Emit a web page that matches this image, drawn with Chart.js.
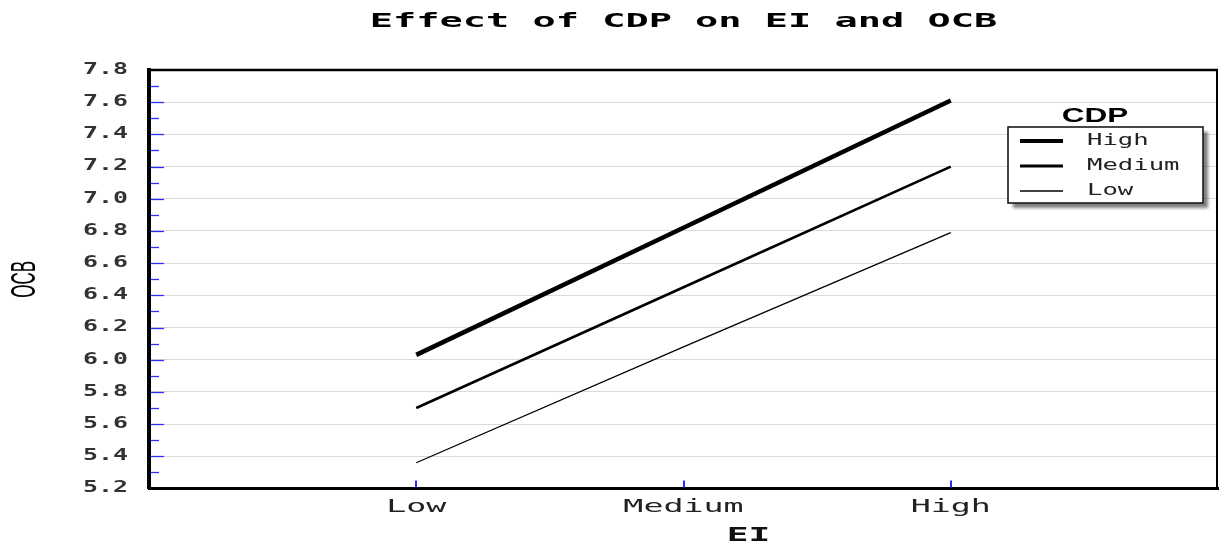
<!DOCTYPE html>
<html>
<head>
<meta charset="utf-8">
<script src="https://cdn.jsdelivr.net/npm/chart.js@4.4.1/dist/chart.umd.min.js"></script>
<style>
  html, body { margin: 0; padding: 0; background: #ffffff; }
  #wrap { width: 1220px; height: 544px; }
</style>
</head>
<body>
<div id="wrap"><canvas id="c" width="1220" height="544"></canvas></div>
<script>
// ---------------- data ----------------
const categories = ['Low', 'Medium', 'High'];          // EI levels (x axis)
const seriesNames = ['High', 'Medium', 'Low'];         // CDP levels (legend)
const highValues = [6.03, 6.82, 7.61];
const mediumValues = [5.70, 6.45, 7.20];
const lowValues = [5.36, 6.08, 6.79];
const yMin = 5.2;
const yMax = 7.8;
const yStep = 0.2;
const chartTitle = 'Effect of CDP on EI and OCB';
const xTitle = 'EI';
const yTitle = 'OCB';
const legendTitle = 'CDP';

// ---------------- styles ----------------
const MONO = "'DejaVu Sans Mono', 'Liberation Mono', monospace";
const SANS = "'Liberation Sans', Arial, sans-serif";
// horizontal/vertical glyph stretch keyed by font pixel size (the reference glyphs are wide)
const TEXT_STRETCH = {
  '20': { sx: 1.93, sy: 1 },                 // chart title
  '15': { sx: 1.66, sy: 1 },                 // y tick labels
  '18': { sx: 1.85, sy: 1 },                 // x tick labels
  '19': { sx: 1.9, sy: 1, dx: 65, dy: 2 },   // x axis title
  '17': { sx: 1, sy: 2.1 },                  // y axis title (rotated)
  '21': { sx: 1.5, sy: 1 },                  // legend title
  '16': { sx: 1.6, sy: 1 }                   // legend labels
};
const lineWidths = [4.5, 2.6, 1.3];

const canvas = document.getElementById('c');
const ctx2d = canvas.getContext('2d');
const origFillText = ctx2d.fillText;
ctx2d.fillText = function (text, x, y, maxWidth) {
  const m = /(\d+(?:\.\d+)?)px/.exec(this.font);
  const t = m && TEXT_STRETCH[m[1]];
  if (!t) {
    return maxWidth === undefined ? origFillText.call(this, text, x, y) : origFillText.call(this, text, x, y, maxWidth);
  }
  this.save();
  this.translate(x + (t.dx || 0), y + (t.dy || 0));
  this.scale(t.sx || 1, t.sy || 1);
  if (maxWidth === undefined) origFillText.call(this, text, 0, 0);
  else origFillText.call(this, text, 0, 0, maxWidth);
  this.restore();
};

const paddedLabels = [''].concat(categories, ['']);
const pad = arr => [null].concat(arr, [null]);
const seriesValues = [highValues, mediumValues, lowValues];

const framePlugin = {
  id: 'frameAndInnerTicks',
  afterDatasetsDraw(chart) {
    const ctx = chart.ctx;
    const a = chart.chartArea;
    const ys = chart.scales.y;
    const xs = chart.scales.x;
    ctx.save();
    // top & right frame
    ctx.strokeStyle = '#000';
    ctx.lineWidth = 2.5;
    ctx.beginPath();
    ctx.moveTo(a.left, a.top);
    ctx.lineTo(a.right, a.top);
    ctx.stroke();
    ctx.lineWidth = 2;
    ctx.beginPath();
    ctx.moveTo(a.right - 1, a.top);
    ctx.lineTo(a.right - 1, a.bottom);
    ctx.stroke();
    // inner blue ticks on y axis
    ctx.strokeStyle = '#2b2bff';
    ctx.lineWidth = 1.3;
    const ticks = ys.ticks.map(t => t.value);
    ticks.forEach((v, i) => {
      const py = Math.round(ys.getPixelForValue(v)) + 0.5;
      if (i > 0 && i < ticks.length - 1) {
        ctx.beginPath();
        ctx.moveTo(a.left + 2, py);
        ctx.lineTo(a.left + 15, py);
        ctx.stroke();
      }
      if (i < ticks.length - 1) {
        const mv = (v + ticks[i + 1]) / 2;
        const my = Math.round(ys.getPixelForValue(mv)) + 0.5;
        ctx.beginPath();
        ctx.moveTo(a.left + 2, my);
        ctx.lineTo(a.left + 10, my);
        ctx.stroke();
      }
    });
    // inner blue ticks on x axis
    ctx.lineWidth = 2;
    categories.forEach((c, i) => {
      const px = Math.round(xs.getPixelForValue(i + 1));
      ctx.beginPath();
      ctx.moveTo(px, a.bottom - 1);
      ctx.lineTo(px, a.bottom - 8);
      ctx.stroke();
    });
    ctx.restore();
  }
};

const legendPlugin = {
  id: 'boxLegend',
  afterDraw(chart) {
    const ctx = chart.ctx;
    const bx = 1008, by = 127, bw = 195, bh = 76;
    ctx.save();
    ctx.shadowColor = 'rgba(0,0,0,0.5)';
    ctx.shadowBlur = 3;
    ctx.shadowOffsetX = 5;
    ctx.shadowOffsetY = 5;
    ctx.fillStyle = '#ffffff';
    ctx.fillRect(bx, by, bw, bh);
    ctx.shadowColor = 'transparent';
    ctx.strokeStyle = '#1a1a1a';
    ctx.lineWidth = 1.6;
    ctx.strokeRect(bx, by, bw, bh);
    // title
    ctx.fillStyle = '#000';
    ctx.font = "bold 21px " + SANS;
    ctx.textAlign = 'center';
    ctx.textBaseline = 'middle';
    ctx.fillText(legendTitle, 1095, 116);
    // items
    chart.data.datasets.forEach((ds, i) => {
      const y = 141 + i * 25;
      ctx.strokeStyle = '#000';
      ctx.lineWidth = [4, 3, 1.6][i];
      ctx.beginPath();
      ctx.moveTo(1020, y);
      ctx.lineTo(1063, y);
      ctx.stroke();
      ctx.fillStyle = '#222';
      ctx.font = "16px " + MONO;
      ctx.textAlign = 'left';
      ctx.textBaseline = 'middle';
      ctx.fillText(ds.label, 1087, y);
    });
    ctx.restore();
  }
};

const whiteBg = {
  id: 'whiteBg',
  beforeDraw(chart) {
    const ctx = chart.ctx;
    ctx.save();
    ctx.fillStyle = '#fff';
    ctx.fillRect(0, 0, chart.width, chart.height);
    ctx.restore();
  }
};

new Chart(canvas, {
  type: 'line',
  data: {
    labels: paddedLabels,
    datasets: seriesNames.map((name, i) => ({
      label: name,
      data: pad(seriesValues[i]),
      borderColor: '#000',
      backgroundColor: '#000',
      borderWidth: lineWidths[i],
      pointRadius: 0,
      tension: 0,
      fill: false
    }))
  },
  options: {
    responsive: false,
    devicePixelRatio: 1,
    animation: false,
    layout: { padding: { left: 0, right: 2, top: 0, bottom: 0 } },
    plugins: {
      legend: { display: false },
      tooltip: { enabled: false },
      title: {
        display: true,
        text: chartTitle,
        fullSize: false,
        color: '#000',
        font: { family: MONO, size: 20, weight: 'bold', lineHeight: 1.2 },
        padding: { top: 10, bottom: 36 }
      }
    },
    scales: {
      x: {
        type: 'category',
        offset: false,
        grid: { drawOnChartArea: false, drawTicks: false },
        border: { display: true, color: '#000', width: 3 },
        ticks: {
          color: '#222',
          font: { family: MONO, size: 18, lineHeight: 2.06 },
          padding: 0,
          autoSkip: false,
          maxRotation: 0
        },
        title: {
          display: true,
          text: xTitle,
          color: '#111',
          font: { family: MONO, size: 19, weight: 'bold', lineHeight: 1.0 },
          padding: { top: 0, bottom: 0 }
        },
        afterFit(scale) { scale.height = 55.5; }
      },
      y: {
        type: 'linear',
        min: yMin,
        max: yMax,
        grid: { color: '#dadada', lineWidth: 1, drawTicks: false },
        border: { display: true, color: '#000', width: 4 },
        ticks: {
          stepSize: yStep,
          color: '#333',
          font: { family: MONO, size: 15, weight: 'bold', lineHeight: 1.2 },
          padding: 21,
          callback: v => Number(v).toFixed(1)
        },
        title: {
          display: true,
          text: yTitle,
          color: '#000',
          font: { family: SANS, size: 17, lineHeight: 1.2 },
          padding: { top: 15, bottom: 0 }
        },
        afterFit(scale) { scale.width = 149; }
      }
    }
  },
  plugins: [whiteBg, framePlugin, legendPlugin]
});
</script>
</body>
</html>
